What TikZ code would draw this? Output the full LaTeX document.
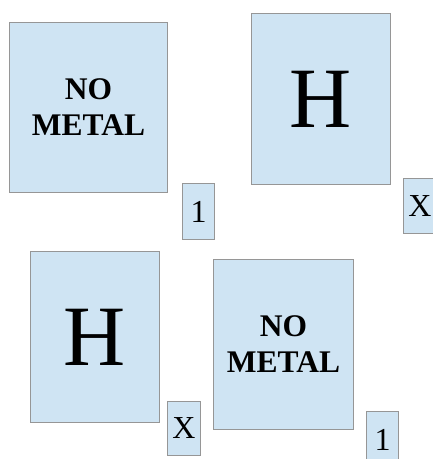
\documentclass[tikz,border=0pt]{standalone}
\usepackage{fontspec}
\setmainfont{Liberation Serif}
\definecolor{boxfill}{RGB}{207,228,243}
\definecolor{boxline}{RGB}{150,150,150}
\begin{document}
\begin{tikzpicture}[x=1pt,y=-1pt,
  card/.style={draw=boxline,fill=boxfill,line width=1pt,inner sep=0pt,anchor=north west,align=center},
  nometal/.style={card,font=\fontsize{31.5}{36}\selectfont\bfseries},
  bigh/.style={card,font=\fontsize{86}{90}\selectfont},
  tag/.style={card,font=\fontsize{32}{34}\selectfont}]
\useasboundingbox (0,0) rectangle (433,459);
% top row
\node[nometal,minimum width=158pt,minimum height=170pt] (nm1) at (9,22) {NO\\METAL};
\node[tag,minimum width=32pt,minimum height=56pt] (one1) at (182,183) {1};
\node[bigh,minimum width=139pt,minimum height=171pt] (h1) at (251,13) {H};
\node[tag,minimum width=33pt,minimum height=55pt] (x1) at (403,178) {X};
% bottom row
\node[bigh,minimum width=129pt,minimum height=171pt] (h2) at (30,251) {H};
\node[tag,minimum width=33pt,minimum height=54pt] (x2) at (167,401) {X};
\node[nometal,minimum width=140pt,minimum height=170pt] (nm2) at (213,259) {NO\\METAL};
\node[tag,minimum width=32pt,minimum height=56pt] (one2) at (366,411) {1};
\end{tikzpicture}
\end{document}
